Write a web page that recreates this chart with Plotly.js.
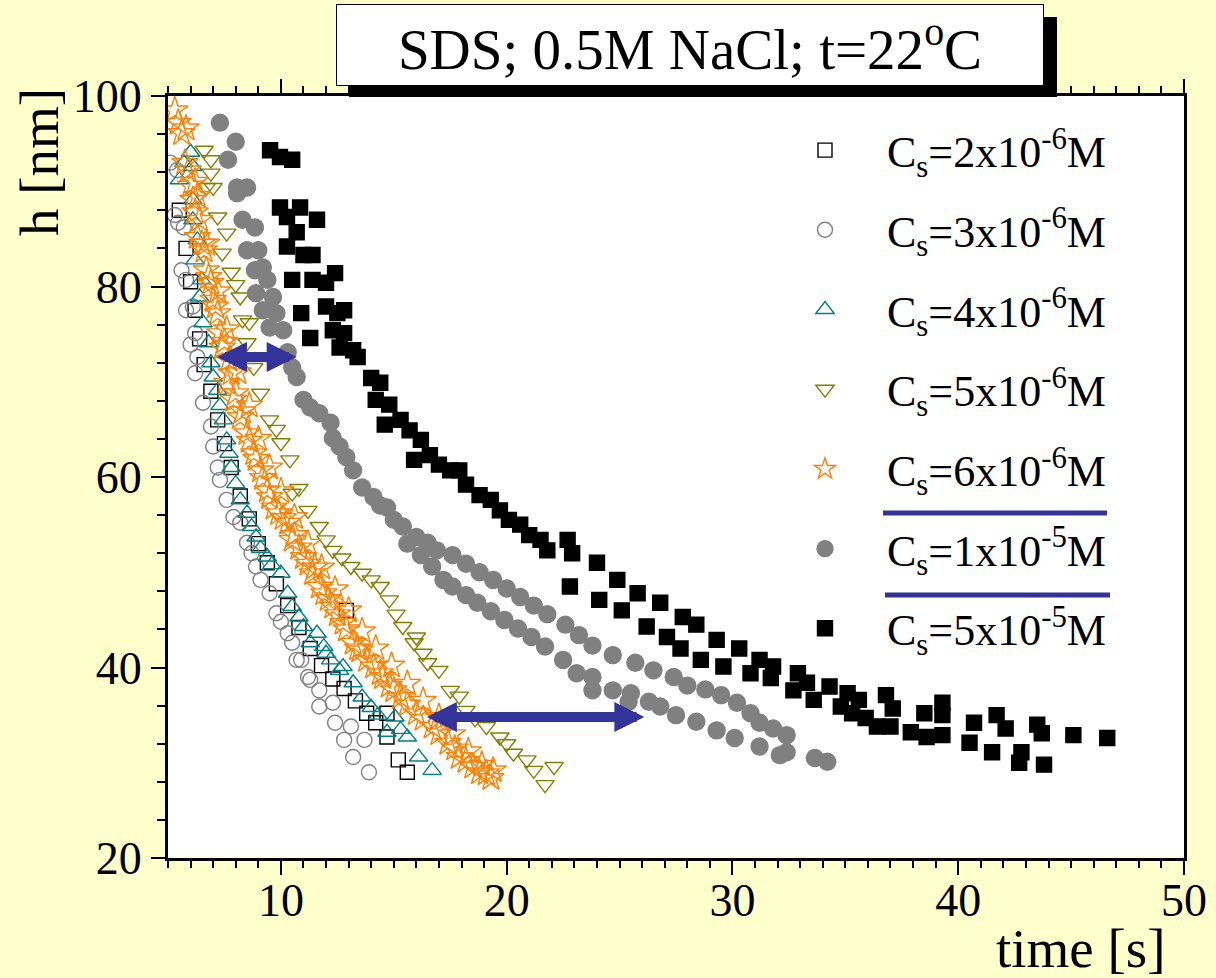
<!DOCTYPE html>
<html>
<head>
<meta charset="utf-8">
<script src="https://cdn.plot.ly/plotly-3.0.1.min.js"></script>
<style>html,body{margin:0;padding:0;background:#FFFFCC;}</style>
</head>
<body>
<div id="chart" style="width:1216px;height:978px;"></div>
<script>
// ---- data ----
var labels = [
  'C<sub>s</sub>=2x10<sup>-6</sup>M',
  'C<sub>s</sub>=3x10<sup>-6</sup>M',
  'C<sub>s</sub>=4x10<sup>-6</sup>M',
  'C<sub>s</sub>=5x10<sup>-6</sup>M',
  'C<sub>s</sub>=6x10<sup>-6</sup>M',
  'C<sub>s</sub>=1x10<sup>-5</sup>M',
  'C<sub>s</sub>=5x10<sup>-5</sup>M'
];

var x2e6 = [5.5,5.8,6.0,6.2,6.4,6.6,6.9,7.2,7.5,7.8,8.2,8.6,9.0,9.4,9.8,10.3,10.8,11.3,11.8,12.3,12.8,12.9,13.3,13.8,14.2,14.7,14.7,15.2,15.6];
var y2e6 = [88.0,84.0,80.5,77.5,74.5,71.8,69.0,66.0,63.5,61.0,58.0,55.6,53.0,51.0,48.8,46.5,44.2,42.0,40.2,38.8,37.8,46.0,36.5,35.2,34.2,35.2,32.7,30.3,29.0];

var x3e6 = [5.1,5.4,5.3,5.45,5.7,5.6,5.8,5.8,6.1,6.2,6.0,6.3,6.2,6.55,6.9,7.0,7.2,7.3,7.6,7.9,8.2,8.5,8.7,8.9,9.1,9.5,9.8,10.0,10.3,10.5,10.7,10.9,11.2,11.3,11.7,11.7,12.3,12.4,12.8,13.1,13.7,13.2,13.9];
var y3e6 = [93.0,92.2,87.5,86.7,86.2,81.7,80.7,77.5,77.9,75.1,73.9,72.6,70.9,67.8,65.3,63.2,61.0,59.7,57.6,55.8,55.2,53.1,52.0,50.6,49.2,47.8,45.7,44.8,43.6,42.6,40.8,40.8,39.0,38.7,37.6,35.9,36.3,34.2,32.4,33.8,32.4,30.6,29.0];

var x4e6 = [5.5,5.7,6.0,6.1,6.1,6.1,6.3,6.2,6.5,6.4,6.55,6.8,6.9,7.0,7.2,7.3,7.45,7.6,7.7,7.8,8.0,8.2,8.5,8.7,8.9,9.1,9.4,9.6,10.0,10.3,10.5,10.8,11.0,11.3,11.6,11.9,12.0,12.2,12.6,12.75,13.2,13.6,14.0,14.3,14.7,15.05,15.3,15.6,16.1,16.7];
var y4e6 = [91.2,93.0,94.1,92.6,89.1,87.0,84.9,82.8,80.7,78.9,76.2,74.1,72.0,70.5,69.1,67.5,66.0,63.9,62.5,61.0,59.3,57.6,56.2,54.8,53.7,52.5,51.6,50.8,49.9,47.8,46.4,45.3,44.3,42.6,43.6,42.2,41.5,40.8,39.7,40.1,38.4,36.9,35.8,35.0,33.2,34.8,33.5,32.7,30.6,29.2];

var x5e6 = [6.6,6.9,6.9,6.7,7.0,7.2,7.6,7.4,7.8,8.0,8.2,8.3,8.6,8.5,8.8,9.1,9.5,9.8,10.0,10.4,10.5,10.8,11.2,11.7,12.0,12.3,12.7,13.1,13.6,14.0,14.4,14.8,15.1,15.4,15.9,16.0,16.3,16.5,17.0,17.5,17.9,18.2,18.6,19.1,19.7,20.0,20.3,20.9,21.2,21.7,22.1];
var y5e6 = [94.3,93.3,91.9,90.4,90.4,87.3,85.6,83.5,81.5,80.2,78.9,76.5,76.2,74.1,71.5,68.8,66.0,65.0,63.6,61.8,58.3,58.8,56.5,54.8,53.4,52.3,51.5,50.6,49.9,49.2,48.5,47.1,45.6,44.3,42.6,43.2,41.5,40.5,39.7,37.6,37.0,35.5,34.6,33.8,32.7,32.0,31.0,30.3,29.2,27.7,29.6];

var x6e6 = [5.3,5.45,5.6,5.8,5.75,5.9,6.0,6.1,6.3,6.2,6.4,6.3,6.5,6.6,6.7,6.8,6.9,7.0,7.1,7.2,7.3,7.4,7.5,7.7,7.8,7.6,7.9,8.0,8.2,8.3,8.5,8.6,8.8,8.9,9.1,9.2,9.4,9.5,9.7,9.9,10.1,10.3,10.5,10.6,10.8,11.0,11.2,11.4,11.5,11.7,11.9,12.1,12.3,12.5,12.75,12.9,13.2,13.4,13.5,13.8,14.1,14.4,14.5,14.8,15.0,15.3,15.6,16.0,16.3,16.7,17.0,17.4,17.7,17.9,18.2,18.5,18.8,19.1,19.3,
            6.2,6.7,7.2,7.6,8.1,8.6,9.0,9.5,10.0,10.6,11.2,11.8,12.4,13.0,13.6,14.2,14.9,15.6,16.3,17.0,17.6,18.3,18.9,19.4];
var y6e6 = [98.5,97.2,96.1,96.6,93.0,92.2,90.6,89.1,89.5,87.8,87.0,85.2,84.5,83.8,81.7,81.0,80.4,78.6,77.9,77.2,75.1,73.6,74.2,72.3,70.9,69.9,68.1,68.8,66.3,66.9,64.6,63.8,62.5,61.9,60.7,59.9,58.6,57.9,56.8,56.2,55.7,55.2,53.4,53.9,52.6,51.6,50.9,49.9,50.5,48.5,47.8,47.2,46.4,45.6,44.7,44.0,42.6,42.0,41.8,40.8,40.1,39.4,39.0,38.1,37.6,36.9,36.1,35.2,34.6,33.8,33.1,32.1,31.5,30.6,30.2,29.6,29.0,28.9,28.4,
            91.0,84.5,79.5,75.5,71.0,67.5,64.0,61.0,58.5,55.8,53.0,50.5,48.2,46.0,43.8,42.0,40.2,38.3,36.5,34.8,33.0,31.2,29.8,29.2];

var x1e5 = [7.3,8.0,7.66,8.06,8.5,8.06,8.3,8.85,8.5,9.0,8.85,9.2,9.4,8.9,9.65,9.2,9.8,9.5,10.1,10.3,10.5,10.7,11.0,11.3,11.7,12.2,12.3,12.6,12.9,13.2,13.6,14.1,14.4,14.7,15.0,15.4,16.0,16.5,16.9,17.6,18.2,18.8,19.4,20.0,20.6,21.2,21.8,22.6,23.2,23.8,24.7,25.7,26.5,27.4,28.0,28.8,29.5,30.2,30.8,31.2,31.8,32.4,
            15.6,16.2,16.7,17.2,17.6,18.2,18.7,19.3,19.9,20.5,21.1,21.7,22.5,23.1,23.8,23.8,24.7,25.5,25.4,26.3,26.8,27.5,28.4,29.3,30.1,31.2,32.1,32.4,33.65,34.2];
var y1e5 = [97.2,95.2,93.3,90.4,90.4,89.8,87.0,86.2,83.8,83.8,81.7,82.0,80.7,79.3,78.9,77.5,77.2,75.7,75.4,73.1,71.5,70.5,68.1,67.3,66.7,65.7,64.1,63.2,62.1,60.7,58.9,57.9,57.0,56.8,55.5,54.8,53.7,53.1,52.3,51.8,50.9,50.0,49.2,48.3,47.4,46.5,45.6,44.5,43.4,42.3,41.3,40.5,39.7,39.0,38.1,37.7,37.1,36.3,35.2,34.2,33.6,32.9,
            53.0,51.8,50.6,49.2,48.5,47.6,46.8,45.9,45.0,44.1,43.2,42.2,40.8,39.4,39.0,37.6,37.6,37.3,36.4,36.4,35.9,35.0,34.3,33.4,32.6,31.7,30.8,31.1,30.5,30.1];

var x5e5 = [9.52,9.96,10.5,9.96,10.85,10.27,11.6,10.7,10.27,11.0,11.4,10.5,11.4,12.0,12.4,10.9,12.0,12.5,12.8,11.3,12.3,12.8,13.2,12.6,13.4,14.0,14.4,14.2,14.8,15.3,14.6,15.7,16.2,16.6,15.9,17.0,17.5,17.9,18.2,18.8,19.3,19.7,20.1,20.6,21.0,21.5,21.8,
            22.7,22.9,24.0,24.9,25.8,26.8,27.8,28.4,29.3,30.3,31.2,31.8,32.9,33.3,34.3,35.1,
            22.8,24.1,25.1,26.2,27.1,27.7,28.6,29.6,30.8,31.7,32.7,33.6,34.8,35.3,
            35.6,36.8,37.1,35.9,36.4,37.0,37.9,38.5,38.6,39.3,39.3,39.3,40.5,40.7,41.5,41.7,42.1,42.8,42.7,43.5,43.7,43.8,45.1,46.6];
var y5e5 = [94.3,93.6,93.3,88.3,88.3,87.3,87.0,85.7,84.2,83.3,83.3,80.7,80.7,80.4,81.4,77.2,77.9,77.2,77.5,74.6,75.4,75.1,73.3,73.6,72.6,70.4,69.9,68.1,67.6,66.0,65.5,64.9,63.9,62.3,61.8,61.3,60.7,60.7,59.2,58.1,57.6,56.5,55.5,55.0,53.9,53.4,52.3,
            53.4,52.0,51.0,49.2,47.8,46.8,45.3,44.5,42.9,42.0,40.8,40.1,39.4,38.4,38.0,37.3,
            48.5,47.1,46.0,44.3,43.2,42.0,40.8,40.1,39.4,38.9,37.6,36.6,35.9,35.2,
            36.6,37.1,35.7,34.7,33.8,33.8,33.2,35.2,32.7,36.3,35.0,32.9,32.1,34.2,31.1,35.0,33.6,31.1,30.0,34.0,33.1,29.8,32.9,32.6];

// arrows (annotation endpoints, data units)
var arrow1 = {x0: 7.1, x1: 10.7, y: 72.6};
var arrow2 = {x0: 16.4, x1: 26.1, y: 34.8};

var titleText = 'SDS; 0.5M NaCl; t=22<sup>o</sup>C';
var xTitle = 'time [s]';
var yTitle = 'h [nm]';

// ---- styling ----
var serif = 'Liberation Serif, Times New Roman, serif';
var xs = [x2e6, x3e6, x4e6, x5e6, x6e6, x1e5, x5e5];
var ys = [y2e6, y3e6, y4e6, y5e6, y6e6, y1e5, y5e5];
var symbols = ['square-open','circle-open','triangle-up-open','triangle-down-open','star-open','circle','square'];
var colors = ['#000000','#808080','#008080','#808000','#FF8000','#808080','#000000'];
var sizes = [14,15,16,16,20,17,15];

var traces = xs.map(function(xv, i) {
  return {
    type: 'scatter', mode: 'markers', x: xv, y: ys[i], name: labels[i],
    legendgroup: 'g' + i,
    marker: {symbol: symbols[i], color: colors[i], size: sizes[i], line: {color: colors[i], width: 1.4}},
    hoverinfo: 'x+y'
  };
});

function px2paperX(px) { return (px - 168) / 1016; }
function px2paperY(py) { return (858 - py) / 762; }

var layout = {
  width: 1216, height: 978,
  margin: {l: 168, r: 32, t: 96, b: 120},
  paper_bgcolor: '#FFFFCC',
  plot_bgcolor: '#FFFFFF',
  font: {family: serif, color: '#000000'},
  showlegend: true,
  legend: {
    x: px2paperX(763), y: px2paperY(115), xanchor: 'left', yanchor: 'top',
    bgcolor: 'rgba(0,0,0,0)', borderwidth: 0,
    font: {family: serif, size: 44, color: '#000000'},
    itemwidth: 114, tracegroupgap: 19.5, traceorder: 'grouped'
  },
  xaxis: {
    range: [5, 50], tick0: 0, dtick: 10, showgrid: false, zeroline: false,
    showline: true, linecolor: '#000000', linewidth: 3, mirror: 'allticks',
    ticks: 'outside', ticklen: 14, tickwidth: 2, tickcolor: '#000000',
    ticklabelstandoff: -14,
    tickfont: {family: serif, size: 46, color: '#000000'},
    minor: {dtick: 1, ticks: 'outside', ticklen: 7, tickwidth: 2, tickcolor: '#000000', showgrid: false}
  },
  yaxis: {
    range: [20, 100], tick0: 0, dtick: 20, showgrid: false, zeroline: false,
    showline: true, linecolor: '#000000', linewidth: 3, mirror: true,
    ticks: 'outside', ticklen: 14, tickwidth: 2, tickcolor: '#000000',
    tickfont: {family: serif, size: 46, color: '#000000'},
    minor: {dtick: 4, ticks: 'outside', ticklen: 8, tickwidth: 2, tickcolor: '#000000', showgrid: false}
  },
  shapes: [
    // title box shadow
    {type: 'rect', xref: 'paper', yref: 'paper',
     x0: px2paperX(349), x1: px2paperX(1057), y0: px2paperY(97), y1: px2paperY(17),
     fillcolor: '#000000', line: {width: 0}},
    // separators in legend
    {type: 'line', xref: 'paper', yref: 'paper',
     x0: px2paperX(883), x1: px2paperX(1107), y0: px2paperY(513), y1: px2paperY(513),
     line: {color: '#333399', width: 5}},
    {type: 'line', xref: 'paper', yref: 'paper',
     x0: px2paperX(885), x1: px2paperX(1110), y0: px2paperY(595), y1: px2paperY(595),
     line: {color: '#333399', width: 5}}
  ],
  annotations: [
    {text: titleText, xref: 'paper', yref: 'paper',
     x: px2paperX(690), y: px2paperY(45), xanchor: 'center', yanchor: 'middle',
     showarrow: false, bgcolor: '#FFFFFF', bordercolor: '#000000', borderwidth: 1,
     width: 704, height: 78, font: {family: serif, size: 57, color: '#000000'}},
    {text: yTitle, xref: 'paper', yref: 'paper', textangle: -90,
     x: px2paperX(40), y: px2paperY(162), xanchor: 'center', yanchor: 'middle',
     showarrow: false, font: {family: serif, size: 55, color: '#000000'}},
    {text: xTitle, xref: 'paper', yref: 'paper',
     x: px2paperX(1081), y: px2paperY(948), xanchor: 'center', yanchor: 'middle',
     showarrow: false, font: {family: serif, size: 55, color: '#000000'}},
    {text: '', x: arrow1.x1, y: arrow1.y, ax: arrow1.x0, ay: arrow1.y, xref: 'x', yref: 'y', axref: 'x', ayref: 'y',
     showarrow: true, arrowside: 'end+start', arrowhead: 2, startarrowhead: 2,
     arrowsize: 0.6, startarrowsize: 0.6, arrowwidth: 10, arrowcolor: '#333399', standoff: 0, startstandoff: 0},
    {text: '', x: arrow2.x1, y: arrow2.y, ax: arrow2.x0, ay: arrow2.y, xref: 'x', yref: 'y', axref: 'x', ayref: 'y',
     showarrow: true, arrowside: 'end+start', arrowhead: 2, startarrowhead: 2,
     arrowsize: 0.6, startarrowsize: 0.6, arrowwidth: 10, arrowcolor: '#333399', standoff: 0, startstandoff: 0}
  ]
};

Plotly.newPlot('chart', traces, layout, {displayModeBar: false, staticPlot: true});
</script>
</body>
</html>
